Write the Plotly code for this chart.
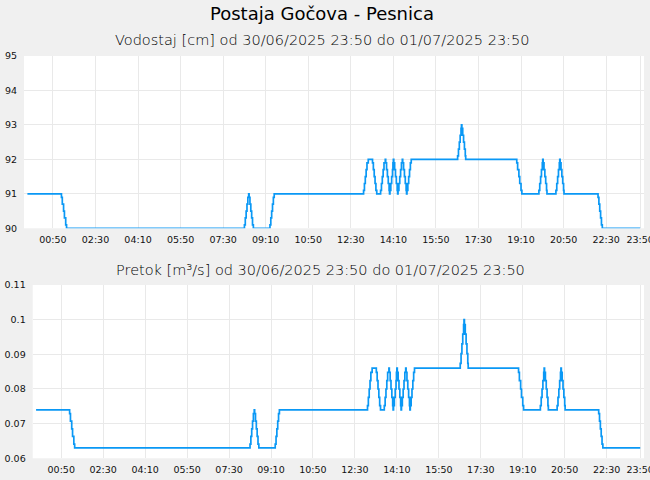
import pandas as pd
import plotly.graph_objects as go

# ---- data ----
start_time = "2025-06-30 23:50"
# change points: minutes after the start time
minutes = [0, 80, 82, 85, 87, 90, 92,
           510, 512, 514, 516, 518, 520, 521, 523, 525, 527, 529, 531,
           570, 572, 574, 576, 578, 580,
           790, 792, 794, 796, 798, 801,
           811, 813, 815, 817, 819, 821,
           830, 832, 834, 836, 838, 841, 842, 844, 846, 848, 850, 851,
           852, 854, 856, 858, 859, 860, 861, 863, 865, 867, 869, 870,
           871, 873, 875, 877, 879, 881, 882, 884, 886, 888, 890, 891,
           892, 894, 896, 898, 900, 902,
           1011, 1013, 1015, 1017, 1019, 1020, 1021, 1023, 1025, 1027, 1029, 1030,
           1150, 1152, 1155, 1157, 1160, 1162,
           1202, 1204, 1206, 1208, 1210, 1211, 1212, 1214, 1216, 1218, 1220, 1221,
           1242, 1244, 1246, 1248, 1250, 1251, 1252, 1254, 1256, 1258, 1260, 1261,
           1341, 1343, 1345, 1347, 1349, 1351,
           1440]

level_cm = [91, 90.9, 90.7, 90.5, 90.3, 90.1, 90.0,
            90.1, 90.3, 90.5, 90.7, 90.9, 91.0, 90.9, 90.7, 90.5, 90.3, 90.1, 90.0,
            90.1, 90.3, 90.5, 90.7, 90.9, 91.0,
            91.1, 91.3, 91.5, 91.7, 91.9, 92.0,
            91.9, 91.7, 91.5, 91.3, 91.1, 91.0,
            91.1, 91.3, 91.5, 91.7, 91.9, 92.0, 91.9, 91.7, 91.5, 91.3, 91.1, 91.0,
            91.1, 91.3, 91.5, 91.7, 91.9, 92.0, 91.9, 91.7, 91.5, 91.3, 91.1, 91.0,
            91.1, 91.3, 91.5, 91.7, 91.9, 92.0, 91.9, 91.7, 91.5, 91.3, 91.1, 91.0,
            91.1, 91.3, 91.5, 91.7, 91.9, 92.0,
            92.1, 92.3, 92.5, 92.7, 92.9, 93.0, 92.9, 92.7, 92.5, 92.3, 92.1, 92.0,
            91.9, 91.7, 91.5, 91.3, 91.1, 91.0,
            91.1, 91.3, 91.5, 91.7, 91.9, 92.0, 91.9, 91.7, 91.5, 91.3, 91.1, 91.0,
            91.1, 91.3, 91.5, 91.7, 91.9, 92.0, 91.9, 91.7, 91.5, 91.3, 91.1, 91.0,
            90.9, 90.7, 90.5, 90.3, 90.1, 90.0,
            90.0]

flow_m3s = [0.074, 0.0729, 0.0707, 0.0685, 0.0663, 0.0641, 0.063,
            0.0641, 0.0663, 0.0685, 0.0707, 0.0729, 0.074, 0.0729, 0.0707, 0.0685, 0.0663, 0.0641, 0.063,
            0.0641, 0.0663, 0.0685, 0.0707, 0.0729, 0.074,
            0.0752, 0.0776, 0.080, 0.0824, 0.0848, 0.086,
            0.0848, 0.0824, 0.080, 0.0776, 0.0752, 0.074,
            0.0752, 0.0776, 0.080, 0.0824, 0.0848, 0.086, 0.0848, 0.0824, 0.080, 0.0776, 0.0752, 0.074,
            0.0752, 0.0776, 0.080, 0.0824, 0.0848, 0.086, 0.0848, 0.0824, 0.080, 0.0776, 0.0752, 0.074,
            0.0752, 0.0776, 0.080, 0.0824, 0.0848, 0.086, 0.0848, 0.0824, 0.080, 0.0776, 0.0752, 0.074,
            0.0752, 0.0776, 0.080, 0.0824, 0.0848, 0.086,
            0.0874, 0.0902, 0.093, 0.0958, 0.0986, 0.100, 0.0986, 0.0958, 0.093, 0.0902, 0.0874, 0.086,
            0.0848, 0.0824, 0.080, 0.0776, 0.0752, 0.074,
            0.0752, 0.0776, 0.080, 0.0824, 0.0848, 0.086, 0.0848, 0.0824, 0.080, 0.0776, 0.0752, 0.074,
            0.0752, 0.0776, 0.080, 0.0824, 0.0848, 0.086, 0.0848, 0.0824, 0.080, 0.0776, 0.0752, 0.074,
            0.0729, 0.0707, 0.0685, 0.0663, 0.0641, 0.063,
            0.063]

tick_labels = ["00:50", "02:30", "04:10", "05:50", "07:30", "09:10", "10:50",
               "12:30", "14:10", "15:50", "17:30", "19:10", "20:50", "22:30", "23:50"]
tick_day = "2025-07-01"

title_text = "Postaja Gočova - Pesnica"
sub1_text = "Vodostaj [cm] od 30/06/2025 23:50 do 01/07/2025 23:50"
sub2_text = "Pretok [m³/s] od 30/06/2025 23:50 do 01/07/2025 23:50"

# ---- build ----
times = pd.Timestamp(start_time) + pd.to_timedelta(minutes, unit="min")
tick_vals = [f"{tick_day} {t}" for t in tick_labels]
x_range = ["2025-06-30 23:42", "2025-07-01 23:59"]

W, H = 650, 480
LINE = "#0a98f5"
GRID = "#e9e9e9"
FONT = "DejaVu Sans"

fig = go.Figure()
fig.add_trace(go.Scatter(x=times, y=level_cm, mode="lines", line_shape="hv",
                         line=dict(color=LINE, width=1.7), xaxis="x", yaxis="y",
                         showlegend=False))
fig.add_trace(go.Scatter(x=times, y=flow_m3s, mode="lines", line_shape="hv",
                         line=dict(color=LINE, width=1.7), xaxis="x2", yaxis="y2",
                         showlegend=False))

def xaxis(dom, anchor):
    return dict(domain=dom, anchor=anchor, type="date", range=x_range,
                tickmode="array", tickvals=tick_vals, ticktext=tick_labels,
                showgrid=True, gridcolor=GRID, gridwidth=1, zeroline=False,
                showline=False, ticks="", tickfont=dict(size=9.5, color="#111", family=FONT),
                ticklabelstandoff=4, ticklabeloverflow="allow", automargin=False)

def yaxis(dom, anchor, rng, dtick):
    return dict(domain=dom, anchor=anchor, range=rng, dtick=dtick, tick0=rng[0],
                showgrid=True, gridcolor=GRID, gridwidth=1, zeroline=False,
                showline=False, ticks="", tickfont=dict(size=9.5, color="#111", family=FONT),
                ticklabelstandoff=6, ticklabeloverflow="allow", automargin=False)

fig.update_layout(
    width=W, height=H,
    margin=dict(l=0, r=0, t=0, b=0),
    paper_bgcolor="#f0f0f0", plot_bgcolor="#ffffff",
    font=dict(family=FONT, color="#111"),
    xaxis=xaxis([24 / W, 644 / W], "y"),
    yaxis=yaxis([(H - 228.3) / H, (H - 56) / H], "x", [90, 95], 1),
    xaxis2=xaxis([32.7 / W, 644 / W], "y2"),
    yaxis2=yaxis([(H - 458.3) / H, (H - 285) / H], "x2", [0.06, 0.11], 0.01),
    annotations=[
        dict(text=title_text, x=0.495, y=1 - 13 / H, xref="paper", yref="paper",
             xanchor="center", yanchor="middle", showarrow=False,
             font=dict(size=18, family=FONT, color="#000")),
        dict(text=sub1_text, x=0.496, y=1 - 40 / H, xref="paper", yref="paper",
             xanchor="center", yanchor="middle", showarrow=False,
             font=dict(size=14.5, family=FONT, color="#000", weight=300)),
        dict(text=sub2_text, x=0.493, y=1 - 270 / H, xref="paper", yref="paper",
             xanchor="center", yanchor="middle", showarrow=False,
             font=dict(size=14.5, family=FONT, color="#000", weight=300)),
    ],
)

fig.write_html("out.html", config={"displayModeBar": False},
               post_script="document.body.style.margin='0';document.body.style.overflow='hidden';")
